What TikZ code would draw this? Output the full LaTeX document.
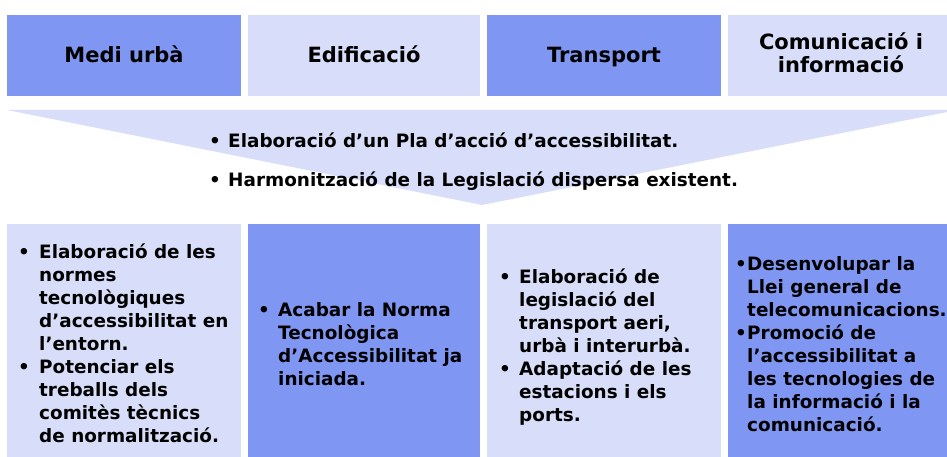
\documentclass[tikz,border=0pt]{standalone}
\usepackage{fontspec}
\setmainfont{DejaVu Sans}
\definecolor{dk}{HTML}{7F97F3}
\definecolor{lt}{HTML}{D8DEF9}
\begin{document}
\begin{tikzpicture}[x=1pt,y=-1pt,
  hd/.style={font=\fontsize{21}{22}\selectfont\bfseries, align=center, inner sep=0pt},
  bd/.style={font=\fontsize{18.4}{23}\selectfont\bfseries, inner sep=0pt, anchor=base west},
  bu/.style={font=\fontsize{18.4}{23}\selectfont\bfseries, inner sep=0pt, anchor=base}]
\useasboundingbox (0,0) rectangle (947,457);
% header boxes
\fill[dk] (7,15) rectangle (241,96);
\fill[lt] (248,15) rectangle (480,96);
\fill[dk] (487,15) rectangle (721,96);
\fill[lt] (728,15) rectangle (947,96);
\node[hd, anchor=base] (h1) at (124,63) {Medi urbà};
\node[hd, anchor=base] (h2) at (364,63) {Edificació};
\node[hd, anchor=base] (h3) at (604,63) {Transport};
\node[hd, anchor=base] (h4a) at (841,50) {Comunicació i};
\node[hd, anchor=base] (h4b) at (841,73) {informació};
% funnel
\fill[lt] (7,110) -- (947,110) -- (947,112) -- (482,205) -- cycle;
\node[bu] (m1b) at (215,148) {•};
\node[bd] (m1) at (228,148) {Elaboració d’un Pla d’acció d’accessibilitat.};
\node[bu] (m2b) at (215,186) {•};
\node[bd] (m2) at (228,186) {Harmonització de la Legislació dispersa existent.};
% bottom boxes
\fill[lt] (7,224) rectangle (241,457);
\fill[dk] (248,224) rectangle (480,457);
\fill[lt] (487,224) rectangle (721,457);
\fill[dk] (728,224) rectangle (947,457);
% box 1
\node[bu] (b1i1) at (24,258) {•};
\node[bu] (b1i2) at (24,373) {•};
\foreach \t [count=\i] in {Elaboració de les, normes, tecnològiques, d’accessibilitat en, l’entorn., Potenciar els, treballs dels, comitès tècnics, de normalització.}
  \node[bd] (b1l\i) at (39,258+23*\i-23) {\t};
% box 2
\node[bu] (b2i1) at (264,316) {•};
\foreach \t [count=\i] in {Acabar la Norma, Tecnològica, d’Accessibilitat ja, iniciada.}
  \node[bd] (b2l\i) at (278,316+23*\i-23) {\t};
% box 3
\node[bu] (b3i1) at (505,283) {•};
\node[bu] (b3i2) at (505,375) {•};
\foreach \t [count=\i] in {Elaboració de, legislació del, {transport aeri,}, urbà i interurbà., Adaptació de les, estacions i els, ports.}
  \node[bd] (b3l\i) at (519,283+23*\i-23) {\t};
% box 4
\node[bu] (b4i1) at (741,270) {•};
\node[bu] (b4i2) at (741,339) {•};
\foreach \t [count=\i] in {Desenvolupar la, Llei general de, telecomunicacions., Promoció de, l’accessibilitat a, les tecnologies de, la informació i la, comunicació.}
  \node[bd] (b4l\i) at (747,270+23*\i-23) {\t};
\end{tikzpicture}
\end{document}
